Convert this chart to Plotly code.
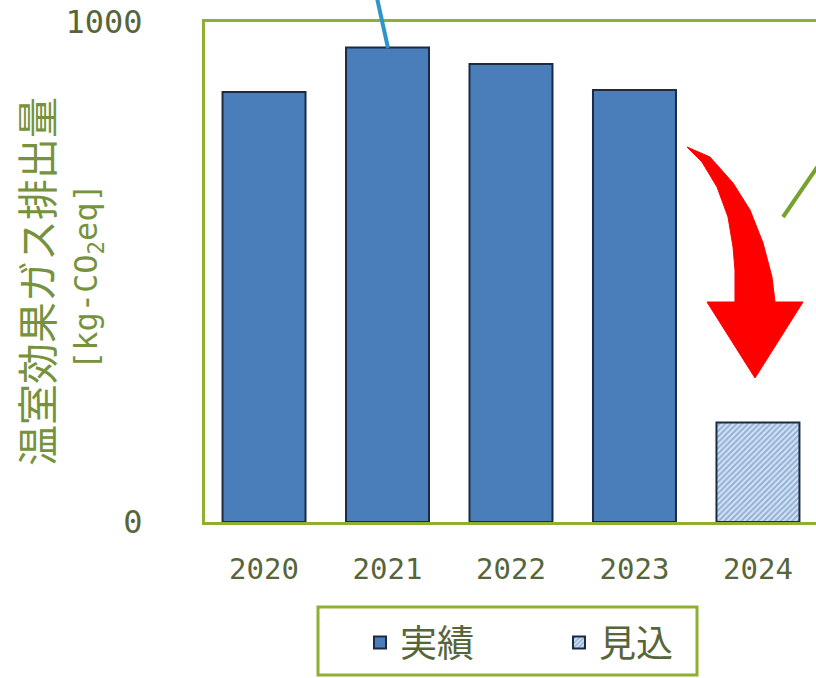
import plotly.graph_objects as go

years = ["2020", "2021", "2022", "2023", "2024"]
actual_years = ["2020", "2021", "2022", "2023"]
actual_values = [860, 949, 916, 864]
forecast_years = ["2024"]
forecast_values = [199]
series_names = ["実績", "見込"]
y_title_line1 = "温室効果ガス排出量"
y_title_line2 = "[kg-CO<sub>2</sub>eq]"

W, H = 816, 678
L, R, T, B = 205, 0, 22, 156
PW, PH = W - L - R, H - T - B


def px(x, y):
    return (x - L) / PW, (H - B - y) / PH


GREEN = "#8FAF32"
TXT = "#56653A"
TITLE = "#76923C"
BLUE = "#4A7EBB"
EDGE = "#1C2A44"

fig = go.Figure()
fig.add_trace(go.Bar(
    x=actual_years, y=actual_values, name=series_names[0],
    marker=dict(color=BLUE, line=dict(color=EDGE, width=2)),
    width=0.672,
))
fig.add_trace(go.Bar(
    x=forecast_years, y=forecast_values, name=series_names[1],
    marker=dict(color="#D6E3F3", line=dict(color=EDGE, width=2),
                pattern=dict(shape="/", fgcolor="#4A7EBB", bgcolor="#D6E3F3", size=4, solidity=0.5)),
    width=0.672,
))

# red curved arrow
pts = [(687, 147), (710, 157), (733, 183), (750, 210), (763, 243), (772, 277), (775, 302),
       (803, 302), (755, 378), (707, 302), (735, 302), (735, 270), (733, 247),
       (728, 217), (717, 187), (702, 162)]
p = [px(a, b) for a, b in pts]
path = "M " + " L ".join(f"{a:.4f},{b:.4f}" for a, b in p) + " Z"
fig.add_shape(type="path", path=path, xref="paper", yref="paper",
              fillcolor="#FF0000", line=dict(color="#FF0000", width=1))

# leader lines
x0, y0 = px(377, -2)
x1, y1 = px(388, 48)
fig.add_shape(type="line", xref="paper", yref="paper", x0=x0, y0=y0, x1=x1, y1=y1,
              line=dict(color="#2E95C8", width=4))
x0, y0 = px(820, 163)
x1, y1 = px(783, 217)
fig.add_shape(type="line", xref="paper", yref="paper", x0=x0, y0=y0, x1=x1, y1=y1,
              line=dict(color="#77A22F", width=4))

# legend frame
x0, y0 = px(318, 607)
x1, y1 = px(697, 675)
fig.add_shape(type="rect", xref="paper", yref="paper", x0=x0, y0=y0, x1=x1, y1=y1,
              line=dict(color=GREEN, width=3), fillcolor="rgba(0,0,0,0)")

# y-axis titles
ax, ay = px(35, 282)
fig.add_annotation(text=y_title_line1, xref="paper", yref="paper", x=ax, y=ay,
                   xanchor="center", yanchor="middle",
                   textangle=-90, showarrow=False,
                   font=dict(family="Noto Sans CJK JP", size=41, color=TITLE))
ax, ay = px(88, 277)
fig.add_annotation(text=y_title_line2, xref="paper", yref="paper", x=ax, y=ay,
                   xanchor="center", yanchor="middle",
                   textangle=-90, showarrow=False,
                   font=dict(family="DejaVu Sans Mono", size=32, color=TITLE))

lx, ly = px(360, 612)
fig.update_layout(
    width=W, height=H,
    margin=dict(l=L, r=R, t=T, b=B, pad=0),
    paper_bgcolor="white", plot_bgcolor="white",
    showlegend=True,
    legend=dict(orientation="h", x=lx, y=ly, xanchor="left", yanchor="top",
                borderwidth=0, bgcolor="rgba(0,0,0,0)",
                font=dict(family="Noto Sans CJK JP", size=37, color=TXT),
                entrywidth=154, traceorder="normal"),
    xaxis=dict(type="category", categoryorder="array", categoryarray=years,
               range=[-0.478, 4.47], showline=True, mirror=True, linecolor=GREEN,
               linewidth=3, ticks="", showgrid=False, ticklabelstandoff=19,
               tickfont=dict(family="DejaVu Sans Mono", size=29, color=TXT)),
    yaxis=dict(range=[0, 1000], tickvals=[0, 1000], ticktext=["0", "1000"],
               showline=True, mirror=False, linecolor=GREEN, linewidth=3,
               showgrid=False, zeroline=False, ticks="", ticklabelstandoff=53,
               tickfont=dict(family="DejaVu Sans Mono", size=32, color=TXT)),
)

fig.write_html("out.html", config={"displayModeBar": False},
               post_script="document.body.style.margin='0';document.body.style.overflow='hidden';")
